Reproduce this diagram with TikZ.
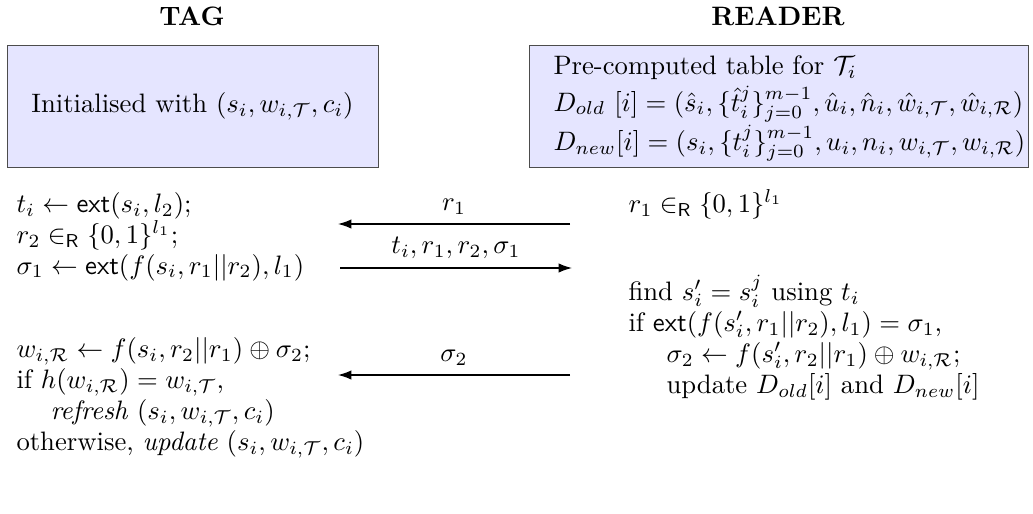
\documentclass[tikz,border=0pt]{standalone}
\usepackage{amsmath,amssymb}
\usetikzlibrary{arrows.meta, positioning}
\tikzset{
  tbl/.style={draw=black!70, line width=0.3pt, fill=blue!10},
  msg/.style={-{Latex[length=5pt,width=3.5pt]}, line width=0.5pt},
  ln/.style={anchor=base west, inner sep=0pt},
}

\begin{document}
\begin{tikzpicture}[x=0.375pt, y=-0.375pt]
    \useasboundingbox (0,0) rectangle (1033,514);
    % headers
    \node[font=\bfseries] (tag) at (192,16) {TAG};
    \node[font=\bfseries] (reader) at (778,16) {READER};
    % initial state
    \draw[tbl] (7,45) rectangle (378,167) node[midway] (tinit) {Initialised with $(s_i, w_{i,\mathcal{T}}, c_i)$};
    \draw[tbl] (529,45) rectangle (1028,167);
    \node[ln] (rtab) at (553,74) {Pre-computed table for $\mathcal{T}_i$};
    \node[ln] (rold) at (553,111) {$D_{old}\ [i] = (\hat{s}_i, \{\hat{t}_i^j\}_{j=0}^{m-1}, \hat{u}_i, \hat{n}_i, \hat{w}_{i,\mathcal{T}}, \hat{w}_{i,\mathcal{R}})$};
    \node[ln] (rnew) at (553,150) {$D_{new}[i] = (s_i, \{t_i^j\}_{j=0}^{m-1}, u_i, n_i, w_{i,\mathcal{T}}, w_{i,\mathcal{R}})$};
    % tag side
    \node[ln] (ta) at (16,212) {$t_i \leftarrow \mathsf{ext}(s_i, l_2)$;};
    \node[ln] (tb) at (16,243) {$r_2 \in_{\mathsf{R}} \{0,1\}^{l_1}$;};
    \node[ln] (tc) at (16,274) {$\sigma_1 \leftarrow \mathsf{ext}(f(s_i, r_1||r_2), l_1)$};
    \node[ln] (td) at (16,357) {$w_{i,\mathcal{R}} \leftarrow f(s_i, r_2||r_1) \oplus \sigma_2$;};
    \node[ln] (te) at (16,388) {if $h(w_{i,\mathcal{R}}) = w_{i,\mathcal{T}}$,};
    \node[ln] (tf) at (50,419) {\textit{refresh} $(s_i, w_{i,\mathcal{T}}, c_i)$};
    \node[ln] (tg) at (16,450) {otherwise, \textit{update} $(s_i, w_{i,\mathcal{T}}, c_i)$};
    % reader side
    \node[ln] (ra) at (628,212) {$r_1 \in_{\mathsf{R}} \{0,1\}^{l_1}$};
    \node[ln] (rb) at (628,300) {find $s'_i = s^j_i$ using $t_i$};
    \node[ln] (rc) at (628,331) {if $\mathsf{ext}(f(s'_i, r_1||r_2), l_1) = \sigma_1$,};
    \node[ln] (rd) at (666,362) {$\sigma_2 \leftarrow f(s'_i, r_2||r_1) \oplus w_{i,\mathcal{R}}$;};
    \node[ln] (re) at (666,393) {update $D_{old}[i]$ and $D_{new}[i]$};
    % messages
    \coordinate (m1s) at (570,224);
    \coordinate (m1e) at (338,224);
    \coordinate (m2s) at (340,268);
    \coordinate (m2e) at (572,268);
    \coordinate (m3s) at (570,375);
    \coordinate (m3e) at (338,375);
    \draw[msg] (m1s) -- node[above] (m1) {$r_1$} (m1e);
    \draw[msg] (m2s) -- node[above] (m2) {$t_i, r_1, r_2, \sigma_1$} (m2e);
    \draw[msg] (m3s) -- node[above] (m3) {$\sigma_2$} (m3e);
\end{tikzpicture}
\end{document}
